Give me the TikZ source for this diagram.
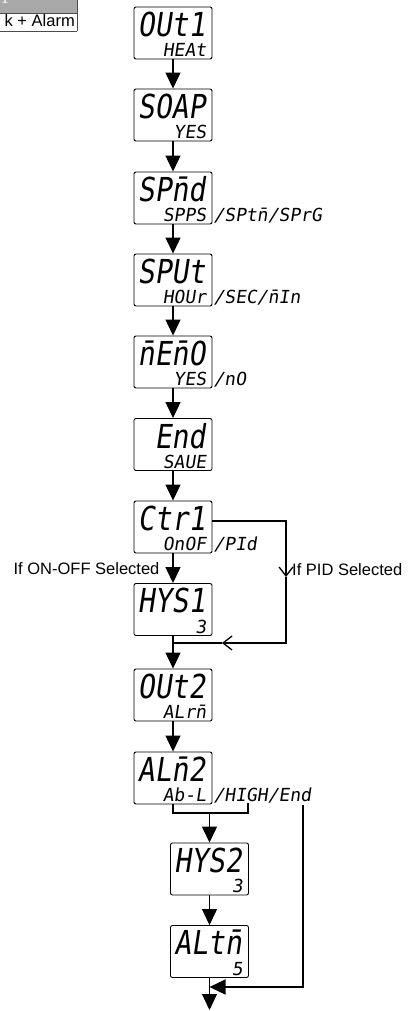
\documentclass[tikz,border=0pt]{standalone}
\usepackage{fontspec}
\usepackage{tikz}
\usetikzlibrary{arrows.meta}
\setmainfont{Liberation Sans}
\newfontfamily\lcdbig[FakeSlant=0.15,FakeStretch=0.85]{DejaVu Sans Mono}
\newfontfamily\lcdsmall[FakeSlant=0.15]{DejaVu Sans Mono}
\newfontfamily\tabserif{Liberation Serif}

\tikzset{
  disp/.style={draw, rounded corners=2pt, line width=0.9pt, minimum width=78pt, minimum height=52pt, inner sep=0pt},
  bigtxt/.style={font=\lcdbig\fontsize{33}{33}\selectfont, inner sep=0pt, anchor=north east},
  smtxt/.style={font=\lcdsmall\fontsize{18}{18}\selectfont, inner sep=0pt, anchor=base east},
  suffix/.style={font=\lcdsmall\fontsize{18}{18}\selectfont, inner sep=0pt, anchor=base west},
  flow/.style={line width=1.2pt, -{Triangle[length=16pt,width=15pt]}},
  branch/.style={line width=1.2pt},
  barb/.style={line width=1.2pt, -{Straight Barb[length=9pt,width=14pt,line width=1.3pt]}},
  lbl/.style={font=\fontsize{16.5}{18}\selectfont, inner sep=0pt}
}

\begin{document}
\begin{tikzpicture}[x=1pt, y=-1pt]
    \useasboundingbox (0,0) rectangle (417,1011);
    \clip (0,0) rectangle (417,1011);

    % Cut-off table corner
    \fill[gray!68] (0,0) rectangle (77,13);
    \node[white, font=\tabserif\fontsize{16}{16}\selectfont, inner sep=0pt, anchor=base] (tabnum) at (5,4) {1};
    \draw[gray!60!black, line width=0.8pt] (0,13) -- (77,13) (0,31) -- (77,31) (77,0) -- (77,31);
    \node[lbl, anchor=base east] (tabtxt) at (75,27) {k + Alarm};

    % Displays
    \foreach \nm/\xx/\yy/\ta/\tb in {
        out1/173/33/OUt1/HEAt, soap/173/115/SOAP/YES, spnd/173/198/SPn̄d/SPPS,
        sput/173/280/SPUt/HOUr, memo/173/362/n̄En̄O/YES, save/173/444.5/End/SAUE,
        ctr1/173/527/Ctr1/OnOF, hys1/173/609.5/HYS1/3, out2/173/695/OUt2/ALrn̄,
        alm2/173/778/ALn̄2/Ab-L, hys2/209.5/869/HYS2/3, altm/209.5/951.5/ALtn̄/5} {
        \node[disp] (\nm) at (\xx,\yy) {};
        \node[bigtxt] (\nm-big) at ([shift={(-7,5)}]\nm.north east) {\ta};
        \node[smtxt] (\nm-sm) at ([shift={(-6,-2.5)}]\nm.south east) {\tb};
    }

    % Other choices next to the displays
    \node[suffix] (spnd-suf) at ([xshift=7pt]spnd-sm.base east) {/SPtn̄/SPrG};
    \node[suffix] (sput-suf) at ([xshift=7pt]sput-sm.base east) {/SEC/n̄In};
    \node[suffix] (memo-suf) at ([xshift=7pt]memo-sm.base east) {/nO};
    \node[suffix] (ctr1-suf) at ([xshift=7pt]ctr1-sm.base east) {/PId};
    \node[suffix] (alm2-suf) at ([xshift=7pt]alm2-sm.base east) {/HIGH/End};

    % Main flow
    \foreach \a/\b in {out1/soap, soap/spnd, spnd/sput, sput/memo, memo/save, save/ctr1, hys1/out2, out2/alm2, hys2/altm} {
        \draw[flow] (\a) -- (\b);
    }
    \draw[flow] (ctr1) -- node[lbl, left=13pt] (onoff) {If ON-OFF Selected} (hys1);

    % PID branch
    \coordinate (pidv) at (286,577);
    \coordinate (pidh) at (222,643);
    \coordinate (pidj) at (hys1.south |- 0,643);
    \draw[barb] ([yshift=6pt]ctr1.east) -| (pidv);
    \draw[barb] (pidv) |- (pidh);
    \draw[branch] (pidh) -- (pidj);
    \node[lbl, anchor=west] (pidlbl) at ([shift={(6,-7)}]pidv) {If PID Selected};

    % Alarm branch
    \coordinate (ablL) at (alm2.south |- 0,813);
    \coordinate (ablR) at (248,813);
    \coordinate (ablT) at (248,803);
    \coordinate (ablM) at (hys2.north |- 0,813);
    \draw[branch] (alm2) -- (ablL) -- (ablR) -- (ablT);
    \draw[flow] (ablM) -- (hys2);

    % End branch
    \coordinate (endT) at (303,805);
    \coordinate (endJ) at (altm.south |- 0,987);
    \coordinate (fin) at (altm.south |- 0,1010);
    \draw[flow] (endT) |- (endJ);
    \draw[flow] (altm) -- (fin);
\end{tikzpicture}
\end{document}
